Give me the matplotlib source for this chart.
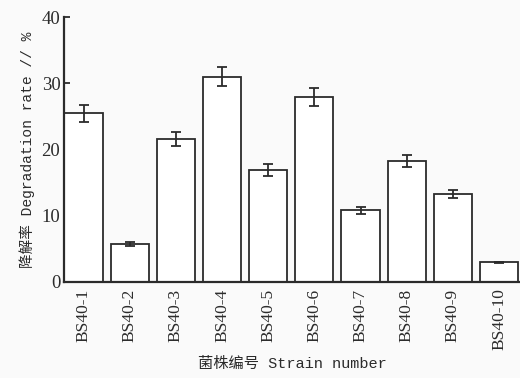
import matplotlib
matplotlib.use('Agg')
import matplotlib.pyplot as plt
import numpy as np

# degradation rate of each strain (mean and error)
strains = ['BS40-1', 'BS40-2', 'BS40-3', 'BS40-4', 'BS40-5',
           'BS40-6', 'BS40-7', 'BS40-8', 'BS40-9', 'BS40-10']
rate = [25.5, 5.7, 21.6, 31.0, 16.9, 27.9, 10.8, 18.3, 13.3, 2.9]
err = [1.3, 0.3, 1.1, 1.45, 0.85, 1.35, 0.55, 0.9, 0.6, 0.1]

ink = '#2b2b2b'
bg = '#fafafa'
label_fonts = ['Liberation Mono', 'Noto Sans CJK SC']

fig = plt.figure(figsize=(5.2, 3.78), dpi=100, facecolor=bg)
ax = fig.add_axes([0.124, 0.255, 0.876, 0.699], facecolor=bg)

x = np.arange(len(strains))
w = 0.826
ax.bar(x, rate, width=w, color='white', edgecolor=ink, linewidth=1.3, zorder=2)
ax.errorbar(x, rate, yerr=err, fmt='none', ecolor=ink, elinewidth=1.3,
            capsize=3.5, capthick=1.3, zorder=3)

ax.set_xlim(-w / 2, 9.455)
ax.set_ylim(0, 40)
ax.set_yticks([0, 10, 20, 30, 40])
ax.set_xticks(x)
ax.set_xticklabels(strains, rotation=90, family='Liberation Serif', fontsize=12.5, color=ink)
for t in ax.get_yticklabels():
    t.set_family('Liberation Serif')
    t.set_fontsize(13.5)
    t.set_color(ink)

ax.tick_params(axis='y', direction='in', length=4, width=1.3, color=ink, pad=3)
ax.tick_params(axis='x', length=0, pad=5)

for side in ['top', 'right']:
    ax.spines[side].set_visible(False)
for side in ['left', 'bottom']:
    ax.spines[side].set_linewidth(1.6)
    ax.spines[side].set_color(ink)

ax.set_ylabel('降解率 Degradation rate // %', family=label_fonts, fontsize=10.5,
              color=ink, labelpad=5)
ax.set_xlabel('菌株编号 Strain number', family=label_fonts, fontsize=11,
              color=ink, labelpad=5)

fig.savefig('out.png', dpi=100, facecolor=bg)
